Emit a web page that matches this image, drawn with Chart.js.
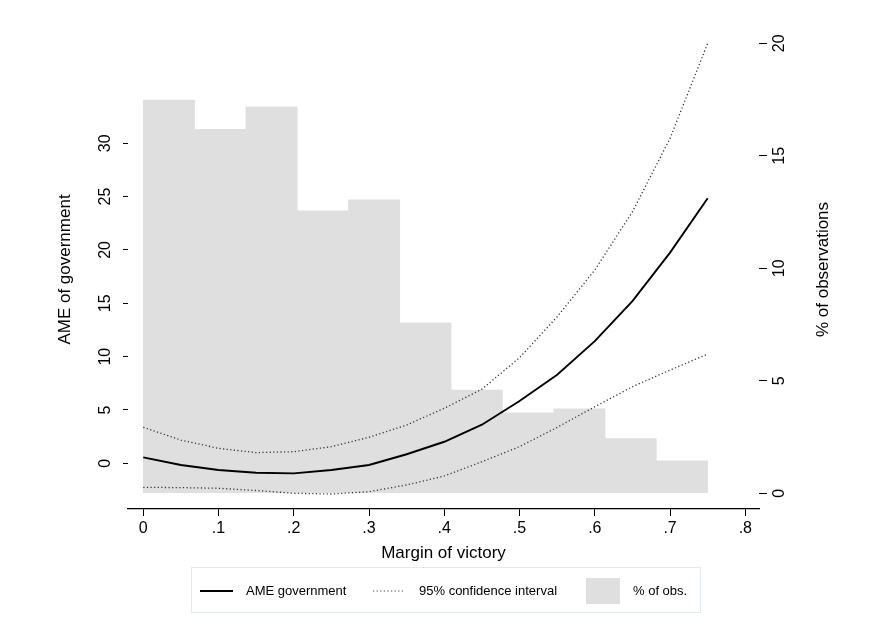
<!DOCTYPE html>
<html>
<head>
<meta charset="utf-8">
<script src="https://cdn.jsdelivr.net/npm/chart.js@4.4.1/dist/chart.umd.min.js"></script>
<style>
  html, body { margin: 0; padding: 0; background: #fff; }
  canvas { display: block; }
</style>
</head>
<body>
<canvas id="ameChart" width="871" height="638"></canvas>
<script>
// Margin of victory grid for the AME curve
const marginX = [0, 0.05, 0.1, 0.15, 0.2, 0.25, 0.3, 0.35, 0.4, 0.45, 0.5, 0.55, 0.6, 0.65, 0.7, 0.75];
const ameGov = [0.56, -0.16, -0.63, -0.88, -0.94, -0.63, -0.16, 0.85, 2.02, 3.62, 5.84, 8.3, 11.45, 15.2, 19.75, 24.84];
const ciUpper = [3.37, 2.18, 1.4, 1.0, 1.09, 1.56, 2.44, 3.59, 5.16, 6.95, 9.9, 13.74, 18.12, 23.58, 30.46, 39.37];
const ciLower = [-2.25, -2.28, -2.34, -2.55, -2.81, -2.88, -2.66, -2.03, -1.19, 0.15, 1.56, 3.37, 5.3, 7.18, 8.74, 10.24];

// Histogram of observations (bin centres, % of obs.)
const binCenters = [0.0341, 0.1023, 0.1705, 0.2386, 0.3068, 0.375, 0.4432, 0.5114, 0.5795, 0.6477, 0.7159];
const pctObs = [17.48, 16.18, 17.17, 12.55, 13.04, 7.58, 4.59, 3.58, 3.75, 2.43, 1.44];

// Tick labels
const xTicks = [0, 0.1, 0.2, 0.3, 0.4, 0.5, 0.6, 0.7, 0.8];
const yLeftTicks = [0, 5, 10, 15, 20, 25, 30];
const yRightTicks = [0, 5, 10, 15, 20];

const FONT = "'Liberation Sans', Arial, Helvetica, sans-serif";
const DOT = [1.2, 2.4];

const pairs = (xs, ys) => xs.map((x, i) => ({ x: x, y: ys[i] }));

// rotated y labels, axis titles and the boxed legend
const decorPlugin = {
    id: 'decor',
    afterDraw(chart) {
        const ctx = chart.ctx;
        const area = chart.chartArea;
        const yL = chart.scales.y;
        const yR = chart.scales.y2;
        const midY = (area.top + area.bottom) / 2;

        ctx.save();
        ctx.fillStyle = '#000';
        ctx.textAlign = 'center';
        ctx.textBaseline = 'middle';

        // left tick labels (vertical)
        ctx.font = '16px ' + FONT;
        yLeftTicks.forEach(v => {
            ctx.save();
            ctx.translate(106, yL.getPixelForValue(v));
            ctx.rotate(-Math.PI / 2);
            ctx.fillText(String(v), 0, 0);
            ctx.restore();
        });
        // right tick labels (vertical)
        yRightTicks.forEach(v => {
            ctx.save();
            ctx.translate(780, yR.getPixelForValue(v));
            ctx.rotate(-Math.PI / 2);
            ctx.fillText(String(v), 0, 0);
            ctx.restore();
        });

        // axis titles
        ctx.font = '17px ' + FONT;
        ctx.save();
        ctx.translate(65, midY);
        ctx.rotate(-Math.PI / 2);
        ctx.fillText('AME of government', 0, 0);
        ctx.restore();

        ctx.save();
        ctx.translate(823, midY);
        ctx.rotate(-Math.PI / 2);
        ctx.fillText('% of observations', 0, 0);
        ctx.restore();

        ctx.fillText('Margin of victory', (area.left + area.right) / 2, 553);

        // legend box
        ctx.strokeStyle = '#e3eaea';
        ctx.lineWidth = 1;
        ctx.strokeRect(191.5, 567.5, 509, 45);

        ctx.font = '13px ' + FONT;
        ctx.textAlign = 'left';
        const ly = 591;

        ctx.strokeStyle = '#000';
        ctx.lineWidth = 1.8;
        ctx.beginPath();
        ctx.moveTo(200, ly);
        ctx.lineTo(233, ly);
        ctx.stroke();
        ctx.fillText('AME government', 246, ly);

        ctx.strokeStyle = '#444';
        ctx.lineWidth = 1.2;
        ctx.setLineDash(DOT);
        ctx.beginPath();
        ctx.moveTo(373, ly);
        ctx.lineTo(405, ly);
        ctx.stroke();
        ctx.setLineDash([]);
        ctx.fillText('95% confidence interval', 419, ly);

        ctx.fillStyle = '#dfdfdf';
        ctx.fillRect(586, 578, 34, 26);
        ctx.fillStyle = '#000';
        ctx.fillText('% of obs.', 633, ly);

        ctx.restore();
    }
};

const ctx = document.getElementById('ameChart').getContext('2d');

new Chart(ctx, {
    type: 'line',
    data: {
        datasets: [{
            label: 'AME government',
            data: pairs(marginX, ameGov),
            yAxisID: 'y',
            borderColor: '#000',
            borderWidth: 1.9,
            pointRadius: 0,
            tension: 0,
            fill: false,
            order: 1
        }, {
            label: '95% confidence interval',
            data: pairs(marginX, ciUpper),
            yAxisID: 'y',
            borderColor: '#333',
            borderWidth: 1.3,
            borderDash: DOT,
            pointRadius: 0,
            tension: 0,
            fill: false,
            order: 1
        }, {
            label: '95% CI lower',
            data: pairs(marginX, ciLower),
            yAxisID: 'y',
            borderColor: '#333',
            borderWidth: 1.3,
            borderDash: DOT,
            pointRadius: 0,
            tension: 0,
            fill: false,
            order: 1
        }, {
            type: 'bar',
            label: '% of obs.',
            data: pairs(binCenters, pctObs),
            yAxisID: 'y2',
            backgroundColor: '#dfdfdf',
            borderWidth: 0,
            barPercentage: 1,
            categoryPercentage: 1,
            order: 3
        }]
    },
    options: {
        responsive: false,
        animation: false,
        layout: { padding: { top: 30, left: 0, right: 0, bottom: 0 } },
        plugins: {
            legend: { display: false },
            tooltip: { enabled: false }
        },
        scales: {
            x: {
                type: 'linear',
                position: 'bottom',
                min: -0.0203,
                max: 0.8182,
                offset: false,
                afterBuildTicks: s => { s.ticks = xTicks.map(v => ({ value: v })); },
                afterFit: s => { s.height = 129; },
                grid: { display: true, drawOnChartArea: false, drawTicks: true, tickLength: 7, color: '#000', lineWidth: 1, offset: false },
                border: { display: true, color: '#000', width: 1.2 },
                ticks: {
                    color: '#000',
                    padding: 3,
                    maxRotation: 0,
                    font: { family: FONT, size: 16 },
                    callback: v => (v === 0 ? '0' : '.' + Math.round(v * 10))
                }
            },
            y: {
                type: 'linear',
                position: 'left',
                min: -4.284,
                max: 40.62,
                afterBuildTicks: s => { s.ticks = yLeftTicks.map(v => ({ value: v })); },
                afterFit: s => { s.width = 128; },
                grid: { display: true, drawOnChartArea: false, drawTicks: true, tickLength: 5, color: '#000', lineWidth: 1 },
                border: { display: false },
                ticks: { display: false }
            },
            y2: {
                type: 'linear',
                position: 'right',
                min: -0.698,
                max: 20.59,
                afterBuildTicks: s => { s.ticks = yRightTicks.map(v => ({ value: v })); },
                afterFit: s => { s.width = 112; },
                grid: { display: true, drawOnChartArea: false, drawTicks: true, tickLength: 8, color: '#000', lineWidth: 1 },
                border: { display: false },
                ticks: { display: false }
            }
        }
    },
    plugins: [decorPlugin]
});
</script>
</body>
</html>
